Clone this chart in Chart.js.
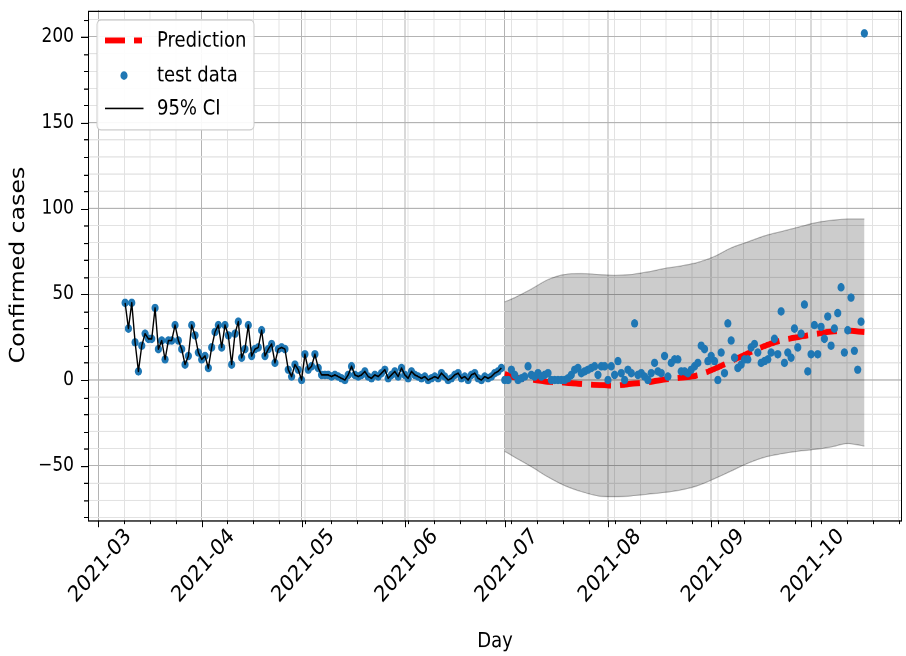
<!DOCTYPE html>
<html>
<head>
<meta charset="utf-8">
<title>Confirmed cases forecast</title>
<script src="https://cdn.jsdelivr.net/npm/chart.js@4.4.1/dist/chart.umd.min.js"></script>
<style>
  html, body { margin: 0; padding: 0; background: #ffffff; overflow: hidden; }
  #frame { width: 906px; height: 656px; overflow: hidden; }
  /* the figure is laid out at 906x556 and scaled vertically to fill 656 px */
  #figure { width: 906px; height: 556px; transform: scaleY(1.18); transform-origin: 0 0; }
  #figure canvas { display: block; }
</style>
</head>
<body>
<div id="frame"><div id="figure"><canvas id="chart" width="906" height="556"></canvas></div></div>
<script>
// ---------------- data ----------------
const axisStart = '2021-03-01';
const monthTicks = ['2021-03-01', '2021-04-01', '2021-05-01', '2021-06-01',
                    '2021-07-01', '2021-08-01', '2021-09-01', '2021-10-01'];
const yTickValues = [-50, 0, 50, 100, 150, 200];

// daily confirmed cases used for fitting (from 2021-03-09)
const trainStart = '2021-03-09';
const trainCases = [
  45, 30, 45, 22, 5, 20, 27, 24, 24, 42,
  18, 23, 12, 23, 23, 32, 23, 18, 9, 14,
  32, 26, 16, 12, 14, 7, 19, 28, 32, 19,
  32, 26, 9, 27, 34, 13, 18, 32, 14, 18,
  19, 29, 14, 18, 21, 10, 18, 19, 18, 6,
  2, 9, 6, 0, 15, 6, 8, 15, 7, 3,
  3, 3, 2, 3, 2, 1, 0, 3, 8, 3,
  2, 3, 5, 2, 1, 3, 2, 4, 6, 1,
  3, 5, 2, 7, 3, 1, 5, 3, 2, 1,
  2, 0, 1, 2, 1, 4, 2, 0, 1, 3,
  4, 1, 2, 0, 3, 4, 1, 0, 2, 1,
  2, 4, 5, 7
];

// daily confirmed cases held out for testing (from 2021-07-01)
const testStart = '2021-07-01';
const testCases = [
  0, 0, 6, 3, 0, 1, 2, 8, 3, 2,
  4, 2, 3, 4, 0, 0, 0, 0, 0, 1,
  3, 6, 7, 4, 5, 6, 7, 8, 3, 8,
  8, 0, 8, 3, 11, 4, 0, 6, 4, 33,
  3, 4, 2, 0, 4, 10, 5, 4, 14, 2,
  10, 12, 12, 5, 5, 4, 6, 8, 10, 20,
  18, 11, 14, 11, 0, 16, 4, 33, 23, 13,
  7, 9, 12, 12, 19, 21, 16, 10, 11, 12,
  16, 24, 15, 40, 10, 16, 13, 30, 19, 27,
  44, 5, 15, 32, 15, 31, 24, 37, 20, 30,
  39, 54, 16, 29, 48, 17, 6, 34, 202
];

// model forecast with its 95% interval
const forecastDates = ['2021-07-01', '2021-07-04', '2021-07-09', '2021-07-14', '2021-07-19',
                       '2021-07-24', '2021-07-29', '2021-08-03', '2021-08-08', '2021-08-13',
                       '2021-08-18', '2021-08-23', '2021-08-28', '2021-09-02', '2021-09-07',
                       '2021-09-12', '2021-09-17', '2021-09-22', '2021-09-27', '2021-10-02',
                       '2021-10-07', '2021-10-12', '2021-10-17'];
const forecastMean = [3.5, 1.5, 0.3, -1, -1.5, -2.3, -2.9, -3.3, -2.2, -1.3,
                      0.3, 1.3, 2.8, 6.5, 11, 15.5, 19.8, 23, 25, 26.7,
                      28.2, 28.7, 27.9];
const ciUpper = [45.5, 48, 53, 58.5, 61.5, 62, 61.5, 61, 61.5, 63,
                 65, 66.5, 68.5, 72, 77, 80.5, 84, 86.5, 89, 91.5,
                 93, 93.8, 93.8];
const ciLower = [-41.5, -45, -50.5, -56.5, -61.5, -65, -67.5, -68, -67.5, -66.5,
                 -65.5, -64, -61.5, -57.5, -53, -48.5, -45, -43, -41.5, -40.5,
                 -39, -37, -38.5];

// ---------------- helpers ----------------
const DAY_MS = 86400000;
const dayIndex = d => Math.round((Date.parse(d + 'T00:00:00Z') - Date.parse(axisStart + 'T00:00:00Z')) / DAY_MS);
const dailySeries = (start, values) => values.map((v, i) => ({ x: dayIndex(start) + i, y: v }));
const datedSeries = (dates, values) => dates.map((d, i) => ({ x: dayIndex(d), y: values[i] }));

const trainPts = dailySeries(trainStart, trainCases);
const testPts = dailySeries(testStart, testCases);

// view limits (days since 2021-03-01, cases)
const X_MIN = -3.14, X_MAX = 241.3;
const Y_MIN = -81.6, Y_MAX = 215.6;

const FONT = 'DejaVu Sans';
const MAJOR_GRID = '#b3b3b3';
const MINOR_GRID = '#e2e2e2';
const BLUE = '#1f77b4';

// monthly major ticks, minor ticks at a quarter of the first month interval
const xMajor = monthTicks.map(dayIndex);
const xMinorStep = (xMajor[1] - xMajor[0]) / 4;
const xTickList = xMajor.map(v => ({ value: v, major: true }));
for (let v = xMajor[0]; v <= X_MAX; v += xMinorStep) {
  if (!xMajor.some(m => Math.abs(m - v) < 1e-6)) xTickList.push({ value: v, major: false });
}
xTickList.sort((a, b) => a.value - b.value);

const yMinorStep = (yTickValues[1] - yTickValues[0]) / 5;
const yTickList = yTickValues.map(v => ({ value: v, major: true }));
for (let v = Math.ceil(Y_MIN / yMinorStep) * yMinorStep; v <= Y_MAX; v += yMinorStep) {
  if (!yTickValues.includes(v)) yTickList.push({ value: v, major: false });
}
yTickList.sort((a, b) => a.value - b.value);

const gridColor = c => (c.tick && c.tick.major ? MAJOR_GRID : MINOR_GRID);

// ---------------- plugins ----------------
// axes frame with outward major/minor tick marks
const axisFrame = {
  id: 'axisFrame',
  afterDraw(chart) {
    const { ctx, chartArea: a, scales: { x, y } } = chart;
    ctx.save();
    ctx.strokeStyle = '#000';
    ctx.lineWidth = 1;
    ctx.beginPath();
    x.ticks.forEach(t => {
      const px = Math.round(x.getPixelForValue(t.value)) + 0.5;
      ctx.moveTo(px, a.bottom);
      ctx.lineTo(px, a.bottom + (t.major ? 6 : 3.4));
    });
    y.ticks.forEach(t => {
      const py = Math.round(y.getPixelForValue(t.value)) + 0.5;
      ctx.moveTo(a.left, py);
      ctx.lineTo(a.left - (t.major ? 7 : 4), py);
    });
    ctx.stroke();
    ctx.strokeRect(Math.round(a.left) + 0.5, Math.round(a.top) + 0.5,
                   Math.round(a.width) - 1, Math.round(a.height));
    ctx.restore();
  }
};

// legend box in the upper-left corner of the plot
const legendBox = {
  id: 'legendBox',
  afterDraw(chart) {
    const { ctx, chartArea: a } = chart;
    const ds = chart.data.datasets;
    const x0 = a.left + 9, y0 = a.top + 8.4, w = 157, h = 93.2;
    ctx.save();
    ctx.beginPath();
    ctx.roundRect(x0, y0, w, h, 4);
    ctx.fillStyle = 'rgba(255,255,255,0.92)';
    ctx.fill();
    ctx.strokeStyle = '#cccccc';
    ctx.lineWidth = 1;
    ctx.stroke();

    const hx0 = x0 + 8, hx1 = x0 + 45, tx = x0 + 60;
    const rows = [y0 + 17.4, y0 + 47.1, y0 + 75];
    const pred = ds[2], obs = ds[3], fit = ds[4];

    ctx.lineCap = 'butt';
    ctx.strokeStyle = pred.borderColor;
    ctx.lineWidth = pred.borderWidth;
    ctx.setLineDash(pred.borderDash);
    ctx.beginPath(); ctx.moveTo(hx0, rows[0]); ctx.lineTo(hx1, rows[0]); ctx.stroke();
    ctx.setLineDash([]);

    ctx.fillStyle = obs.pointBackgroundColor;
    ctx.beginPath(); ctx.arc((hx0 + hx1) / 2 + 0.5, rows[1], obs.pointRadius, 0, Math.PI * 2); ctx.fill();

    ctx.strokeStyle = fit.borderColor;
    ctx.lineWidth = fit.borderWidth;
    ctx.beginPath(); ctx.moveTo(hx0, rows[2]); ctx.lineTo(hx1 + 1.5, rows[2]); ctx.stroke();

    ctx.fillStyle = '#000';
    ctx.font = '18px "' + FONT + '"';
    ctx.textBaseline = 'middle';
    ctx.textAlign = 'left';
    [pred, obs, fit].forEach((d, i) => ctx.fillText(d.label, tx, rows[i] + 0.5));
    ctx.restore();
  }
};

// ---------------- chart ----------------
Chart.defaults.font.family = FONT;
Chart.defaults.color = '#000';

new Chart(document.getElementById('chart'), {
  type: 'line',
  data: {
    datasets: [
      {
        label: 'upper 95%',
        data: datedSeries(forecastDates, ciUpper),
        borderColor: 'rgba(0,0,0,0.28)',
        borderWidth: 1,
        backgroundColor: 'rgba(0,0,0,0.2)',
        fill: '+1',
        pointRadius: 0,
        cubicInterpolationMode: 'monotone',
        order: 6
      },
      {
        label: 'lower 95%',
        data: datedSeries(forecastDates, ciLower),
        borderColor: 'rgba(0,0,0,0.28)',
        borderWidth: 1,
        fill: false,
        pointRadius: 0,
        cubicInterpolationMode: 'monotone',
        order: 5
      },
      {
        label: 'Prediction',
        data: datedSeries(forecastDates, forecastMean),
        borderColor: '#ff0000',
        borderWidth: 5,
        borderDash: [20, 9],
        borderCapStyle: 'butt',
        fill: false,
        pointRadius: 0,
        cubicInterpolationMode: 'monotone',
        order: 4
      },
      {
        label: 'test data',
        data: trainPts.concat(testPts),
        showLine: false,
        pointRadius: 3.6,
        pointBackgroundColor: BLUE,
        pointBorderColor: BLUE,
        pointBorderWidth: 0,
        backgroundColor: BLUE,
        borderColor: BLUE,
        order: 3
      },
      {
        label: '95% CI',
        data: trainPts,
        borderColor: '#000000',
        borderWidth: 1.4,
        borderJoinStyle: 'round',
        fill: false,
        pointRadius: 0,
        tension: 0,
        order: 2
      }
    ]
  },
  options: {
    responsive: false,
    animation: false,
    devicePixelRatio: 2,
    events: [],
    layout: { padding: { top: 8.5, right: 1, left: 0, bottom: 0 } },
    plugins: {
      legend: { display: false },
      tooltip: { enabled: false }
    },
    scales: {
      x: {
        type: 'linear',
        min: X_MIN,
        max: X_MAX,
        afterBuildTicks: s => { s.ticks = xTickList.map(t => ({ ...t })); },
        afterFit: s => { s.height = 115.3; s.paddingLeft = 0; s.paddingRight = 0; },
        ticks: {
          autoSkip: false,
          minRotation: 45,
          maxRotation: 45,
          labelOffset: 30,
          padding: 3,
          font: { size: 19 },
          callback: v => {
            const k = xMajor.indexOf(v);
            return k >= 0 ? monthTicks[k].slice(0, 7) : '';
          }
        },
        grid: { drawTicks: false, color: gridColor, lineWidth: 1 },
        border: { display: false },
        title: { display: true, text: 'Day', font: { size: 18 }, padding: { top: 0, bottom: 1.5 } }
      },
      y: {
        type: 'linear',
        min: Y_MIN,
        max: Y_MAX,
        afterBuildTicks: s => { s.ticks = yTickList.map(t => ({ ...t })); },
        afterFit: s => { s.width = 88; s.paddingTop = 0; s.paddingBottom = 0; },
        ticks: {
          autoSkip: false,
          padding: 14,
          font: { size: 17 },
          callback: v => (yTickValues.includes(v) ? (v < 0 ? '\u2212' + Math.abs(v) : String(v)) : '')
        },
        grid: { drawTicks: false, color: gridColor, lineWidth: 1 },
        border: { display: false },
        title: { display: true, text: 'Confirmed cases', font: { size: 20 }, padding: { top: 7, bottom: 0 } }
      }
    }
  },
  plugins: [axisFrame, legendBox]
});
</script>
</body>
</html>
